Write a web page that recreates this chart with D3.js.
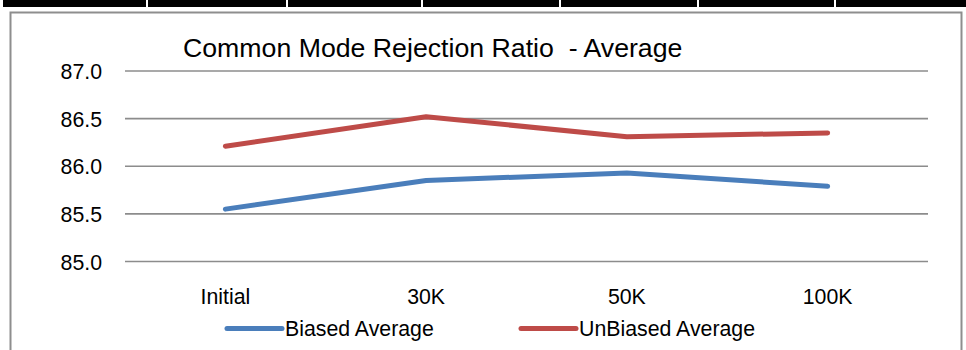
<!DOCTYPE html>
<html>
<head>
<meta charset="utf-8">
<script src="https://cdn.jsdelivr.net/npm/d3@7"></script>
<style>
  html, body { margin: 0; padding: 0; background: #fff; }
  svg { display: block; font-family: "Liberation Sans", Arial, sans-serif; }
</style>
</head>
<body>
<svg id="chart" width="966" height="350"></svg>
<script>
// Measurement points along the x axis
const categories = ["Initial", "30K", "50K", "100K"];
// CMRR averages (dB) per measurement point
const biasedAverage = [85.55, 85.85, 85.93, 85.79];
const unbiasedAverage = [86.21, 86.52, 86.31, 86.35];
// Value axis ticks
const yTicks = [85.0, 85.5, 86.0, 86.5, 87.0];
const seriesNames = ["Biased Average", "UnBiased Average"];
const seriesColors = ["#4a7ebb", "#be4b48"];

const svg = d3.select("#chart");

// Page header rule with cell separators
svg.append("rect").attr("x", 3).attr("y", 0).attr("width", 963).attr("height", 7).attr("fill", "#000");
[147, 287, 422, 560, 698, 835].forEach(x => {
  svg.append("rect").attr("x", x - 1).attr("y", 0).attr("width", 2).attr("height", 7).attr("fill", "#fff");
});

// Chart frame
svg.append("path")
  .attr("d", "M10.5,360 V12.5 H961.5 V360")
  .attr("fill", "none").attr("stroke", "#8e8e8e").attr("stroke-width", 2);

// Title
svg.append("text")
  .attr("x", 183).attr("y", 57)
  .attr("font-size", 26.7)
  .attr("fill", "#000")
  .attr("xml:space", "preserve")
  .style("white-space", "pre")
  .text("Common Mode Rejection Ratio  - Average");

// Scales
const x = d3.scaleBand().domain(categories).range([125, 928]);
const y = d3.scaleLinear().domain([85, 87]).range([261.5, 71]);
const cx = c => x(c) + x.bandwidth() / 2;

// Horizontal gridlines
svg.append("g").selectAll("line").data(yTicks).join("line")
  .attr("x1", 125).attr("x2", 928)
  .attr("y1", d => y(d)).attr("y2", d => y(d))
  .attr("stroke", "#8c8c8c").attr("stroke-width", 1.6);

// Value axis labels
const yAxis = d3.axisLeft(y).tickValues(yTicks).tickFormat(d3.format(".1f")).tickSize(0).tickPadding(0);
const yg = svg.append("g").attr("transform", "translate(102,0)").call(yAxis);
yg.select(".domain").remove();
yg.selectAll("text").attr("font-size", 21.3).attr("font-family", "Liberation Sans, Arial, sans-serif").attr("fill", "#000").attr("dy", "0.36em");

// Category axis labels
const xAxis = d3.axisBottom(x).tickSize(0).tickPadding(0);
const xg = svg.append("g").attr("transform", "translate(0,286)").call(xAxis);
xg.select(".domain").remove();
xg.selectAll("text").attr("font-size", 21.3).attr("font-family", "Liberation Sans, Arial, sans-serif").attr("fill", "#000").attr("dy", "0.85em");

// Series lines
const line = d3.line().x((d, i) => cx(categories[i])).y(d => y(d));
[biasedAverage, unbiasedAverage].forEach((vals, k) => {
  svg.append("path").datum(vals)
    .attr("d", line)
    .attr("fill", "none")
    .attr("stroke", seriesColors[k])
    .attr("stroke-width", 5)
    .attr("stroke-linecap", "round")
    .attr("stroke-linejoin", "round");
});

// Legend
const legendX = [227, 521];
seriesNames.forEach((name, k) => {
  const g = svg.append("g").attr("transform", `translate(${legendX[k]},328.5)`);
  g.append("line").attr("x1", 0).attr("x2", 55).attr("y1", 0).attr("y2", 0)
    .attr("stroke", seriesColors[k]).attr("stroke-width", 5).attr("stroke-linecap", "round");
  g.append("text").attr("x", 58).attr("y", 0).attr("dy", "0.36em")
    .attr("font-size", 21.3).attr("fill", "#000").text(name);
});
</script>
</body>
</html>
